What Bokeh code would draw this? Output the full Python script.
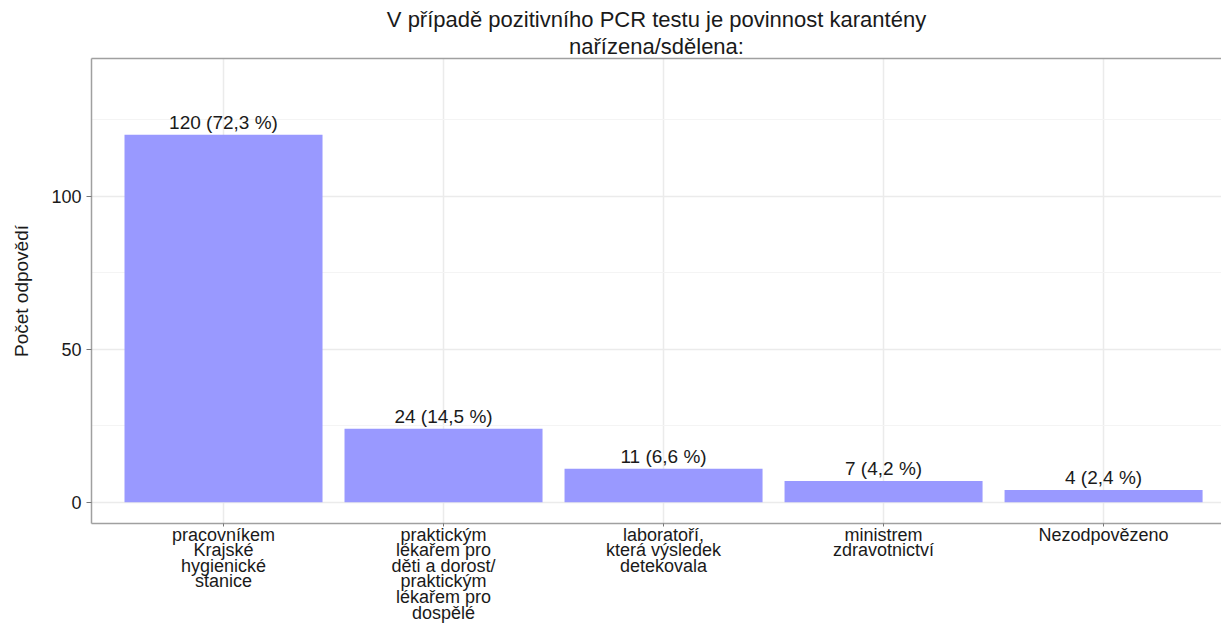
from bokeh.plotting import figure
from bokeh.models import Range1d, FixedTicker, LinearAxis, Title
from bokeh.core.properties import value
from bokeh.embed import file_html
from bokeh.resources import INLINE

categories = [
    "pracovníkem\nKrajské\nhygienické\nstanice",
    "praktickým\nlékařem pro\nděti a dorost/\npraktickým\nlékařem pro\ndospělé",
    "laboratoří,\nkterá výsledek\ndetekovala",
    "ministrem\nzdravotnictví",
    "Nezodpovězeno",
]
counts = [120, 24, 11, 7, 4]
percents = [72.3, 14.5, 6.6, 4.2, 2.4]
y_ticks = [0, 50, 100]
y_minor = [25, 75, 125]

title_lines = ["V případě pozitivního PCR testu je povinnost karantény", "nařízena/sdělena:"]
ylabel = "Počet odpovědí"

xs = list(range(1, len(categories) + 1))
labels = [f"{c} ({str(p).replace('.', ',')} %)" for c, p in zip(counts, percents)]

FONT = "Liberation Sans"
BORDER = "#a0a0a0"

p = figure(width=1221, height=625, output_backend="svg", toolbar_location=None,
           x_range=Range1d(0.4, 5.536), y_range=Range1d(-6.9, 144.9),
           min_border_left=91, min_border_right=0, min_border_top=58, min_border_bottom=102,
           outline_line_color=None, background_fill_color="white", title=None)

p.vbar(x=xs, top=counts, bottom=0, width=0.9, fill_color="#9999FF", line_color=None)
p.text(x=xs, y=counts, text=labels, text_align="center", text_baseline="bottom",
       y_offset=-2, text_font=value(FONT), text_font_size="19px", text_color="#1a1a1a")

# axes
p.xaxis.ticker = FixedTicker(ticks=xs)
p.xaxis.major_label_overrides = {x: c for x, c in zip(xs, categories)}
p.xaxis.major_label_text_font = FONT
p.xaxis.major_label_text_font_size = "18px"
p.xaxis.major_label_text_line_height = 0.78
p.xaxis.major_label_text_color = "#1a1a1a"
p.xaxis.major_label_standoff = -2
p.xaxis.major_tick_out = 3
p.xaxis.major_tick_in = 0
p.xaxis.minor_tick_line_color = None
p.xaxis.axis_line_color = BORDER
p.xaxis.axis_line_width = 1.5
p.xaxis.major_tick_line_color = "#777777"

p.yaxis.ticker = FixedTicker(ticks=y_ticks, minor_ticks=y_minor)
p.yaxis.major_label_text_font = FONT
p.yaxis.major_label_text_font_size = "18px"
p.yaxis.major_label_text_color = "#1a1a1a"
p.yaxis.major_label_standoff = 5
p.yaxis.major_tick_out = 5
p.yaxis.major_tick_in = 0
p.yaxis.minor_tick_line_color = None
p.yaxis.axis_line_color = BORDER
p.yaxis.axis_line_width = 1.5
p.yaxis.major_tick_line_color = "#777777"
p.yaxis.axis_label = ylabel
p.yaxis.axis_label_text_font = "'Liberation Sans Narrow', 'Arial Narrow', 'Liberation Sans'"
p.yaxis.axis_label_text_font_size = "19px"
p.yaxis.axis_label_text_font_style = "normal"
p.yaxis.axis_label_text_color = "#1a1a1a"
p.yaxis.axis_label_standoff = 16

top_axis = LinearAxis(ticker=FixedTicker(ticks=[]), major_label_overrides={},
                      major_tick_out=0, major_tick_in=0, major_label_standoff=0,
                      minor_tick_line_color=None, axis_line_color=BORDER, axis_line_width=1.5)
p.add_layout(top_axis, "above")

# title: two centred lines (line added later sits further out)
for line, lh in [(title_lines[1], 0.8), (title_lines[0], 1.0)]:
    p.add_layout(Title(text=line, align="center", text_font=FONT, text_font_size="22px",
                       text_font_style="normal", text_color="#1a1a1a", standoff=0,
                       text_line_height=lh, offset=4), "above")

# grid
p.xgrid.grid_line_color = "#ebebeb"
p.xgrid.grid_line_width = 1.5
p.ygrid.grid_line_color = "#ebebeb"
p.ygrid.grid_line_width = 1.5
p.ygrid.minor_grid_line_color = "#f4f4f4"
p.ygrid.minor_grid_line_width = 1

open("out.html", "w").write(file_html(p, INLINE))
